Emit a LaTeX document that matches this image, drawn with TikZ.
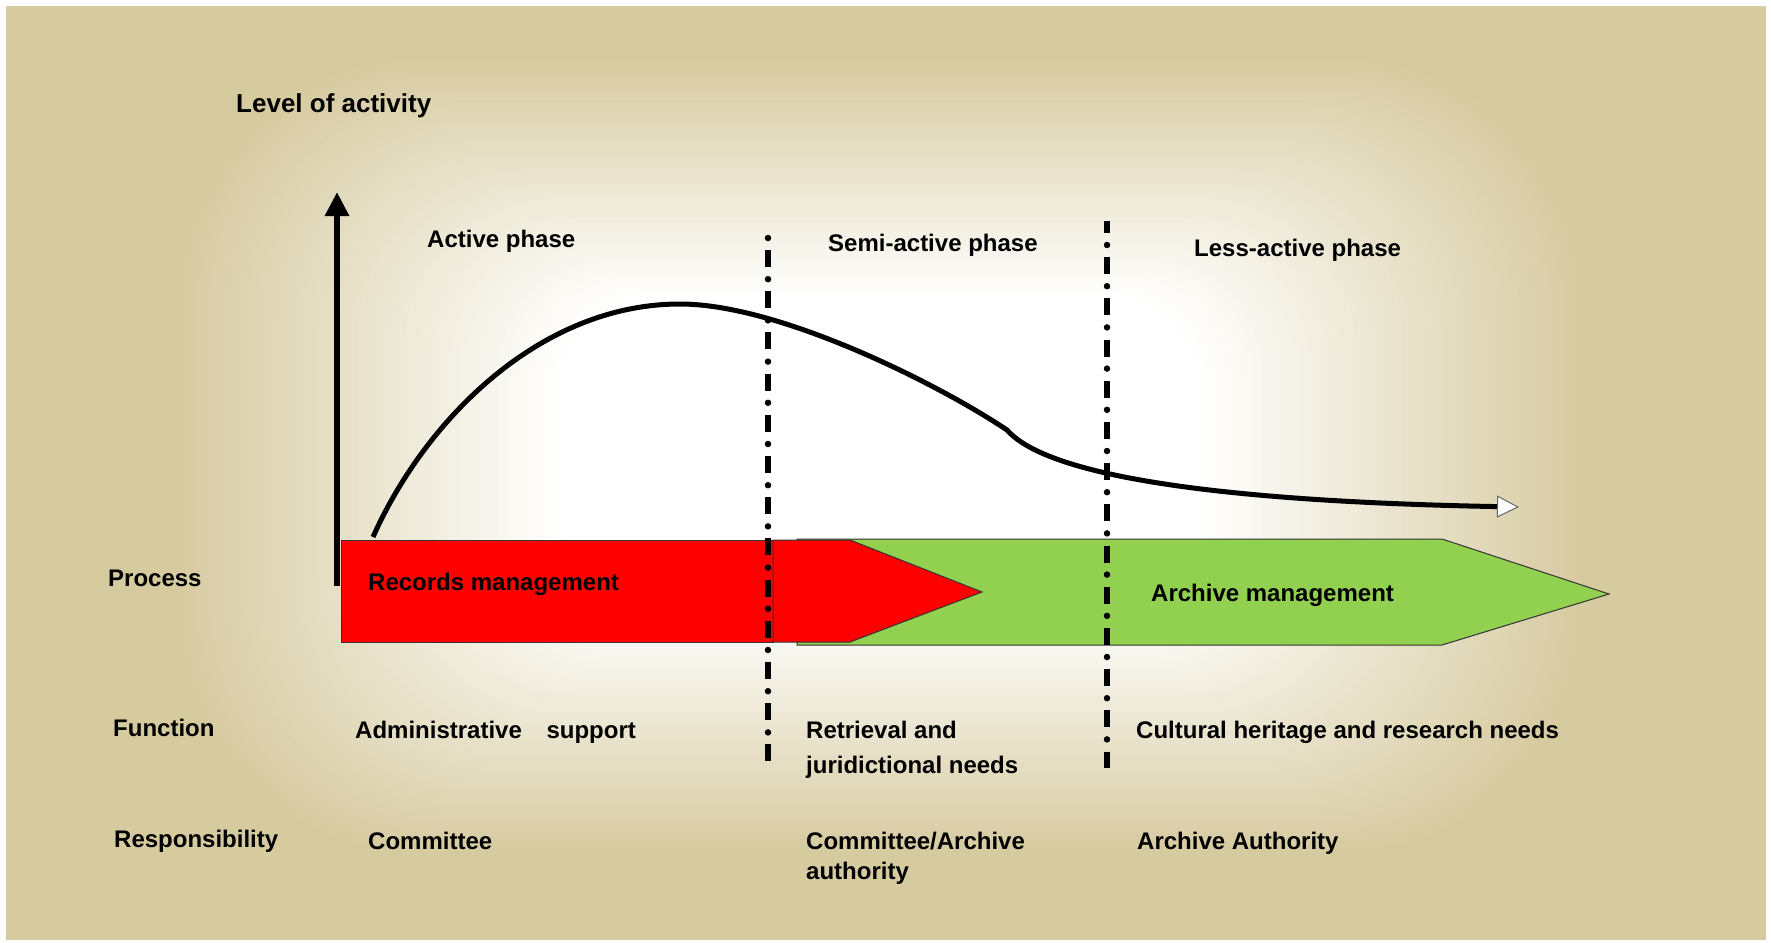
\documentclass[tikz,border=0pt]{standalone}
\usepackage{fontspec}
\setmainfont{Liberation Sans}
\usetikzlibrary{arrows.meta}
\definecolor{tanc}{RGB}{214,202,159}
\definecolor{redc}{RGB}{255,0,0}
\definecolor{greenc}{RGB}{146,208,80}
\begin{document}
\begin{tikzpicture}[x=1pt,y=-1pt,
  lbl/.style={anchor=base west, inner sep=0pt, font=\bfseries\fontsize{24}{28}\selectfont},
  ttl/.style={anchor=base west, inner sep=0pt, font=\bfseries\fontsize{26}{30}\selectfont},
  edge/.style={draw=black!80, line width=1pt},
  sepdot/.style={line width=6.5pt, line cap=round, dash pattern=on 0pt off 41.2pt},
  sepdash/.style={line width=6pt, dash pattern=on 17pt off 24.2pt},
  curve/.style={line width=5pt}]
\useasboundingbox (0,0) rectangle (1771,942);
\fill[white] (0,0) rectangle (1771,942);
% background gradient
\begin{scope}
\clip (6,6) rectangle (1766,940);
\fill[tanc] (6,6) rectangle (1766,940);
\foreach \i in {0,...,50}{
  \pgfmathsetmacro{\s}{1-\i/50}
  \pgfmathsetmacro{\hx}{320+390*\s}
  \pgfmathsetmacro{\hy}{160+240*\s}
  \pgfmathsetmacro{\rr}{0.6*\hy}
  \pgfmathsetmacro{\pc}{100*(1-\s)}
  \fill[fill=white!\pc!tanc, rounded corners=\rr pt] (880-\hx,455-\hy) rectangle (880+\hx,455+\hy);
}
\end{scope}
% process bars
\filldraw[fill=greenc, edge] (797,539) -- (1442,539) -- (1609,594) -- (1442,645) -- (797,645) -- cycle;
\filldraw[fill=redc, edge] (341,540) rectangle (773,642);
\filldraw[fill=redc, edge] (773,540) -- (850,540) -- (982,592) -- (850,642) -- (773,642) -- cycle;
% axis
\coordinate (ax0) at (337,586);
\coordinate (ax1) at (337,192);
\draw[line width=6pt, -{Triangle[length=24pt,width=23pt]}] (ax0) -- (ax1);
% activity curve
\coordinate (c0) at (373,537);
\coordinate (cpk) at (680,304);
\coordinate (ckink) at (1007,430);
\coordinate (cend) at (1519,507);
\draw[curve, -{Triangle[length=22pt,width=22pt,fill=white,color=black!60,line width=1pt]}]
  (c0) .. controls (425,420) and (540,304) .. (cpk)
  .. controls (780,304) and (940,385) .. (ckink)
  .. controls (1035,462) and (1140,500) .. (cend);
% phase separators
\coordinate (s1a) at (768,238); \coordinate (s1b) at (768,733);
\coordinate (s1c) at (768,250); \coordinate (s1d) at (768,762);
\coordinate (s2a) at (1107,245); \coordinate (s2b) at (1107,741);
\coordinate (s2c) at (1107,221); \coordinate (s2d) at (1107,768);
\draw[sepdot] (s1a) -- (s1b);
\draw[sepdash] (s1c) -- (s1d);
\draw[sepdot] (s2a) -- (s2b);
\draw[sepdash, dash phase=5pt] (s2c) -- (s2d);
% texts
\node[ttl] (lvl) at (236,112) {Level of activity};
\node[lbl] (act) at (427,247) {Active phase};
\node[lbl] (semi) at (828,251) {Semi-active phase};
\node[lbl] (less) at (1194,256) {Less-active phase};
\node[lbl] (proc) at (108,586) {Process};
\node[lbl] (recm) at (368,590) {Records management};
\node[lbl] (arcm) at (1151,601) {Archive management};
\node[lbl] (func) at (113,736) {Function};
\node[lbl] (adm) at (355,738) {Administrative\hspace{18pt} support};
\node[lbl] (ret1) at (806,738) {Retrieval and};
\node[lbl] (ret2) at (806,773) {juridictional needs};
\node[lbl] (cult) at (1136,738) {Cultural heritage and research needs};
\node[lbl] (resp) at (114,847) {Responsibility};
\node[lbl] (com) at (368,849) {Committee};
\node[lbl] (ca1) at (806,849) {Committee/Archive};
\node[lbl] (ca2) at (806,879) {authority};
\node[lbl] (aa) at (1137,849) {Archive Authority};
\end{tikzpicture}
\end{document}
